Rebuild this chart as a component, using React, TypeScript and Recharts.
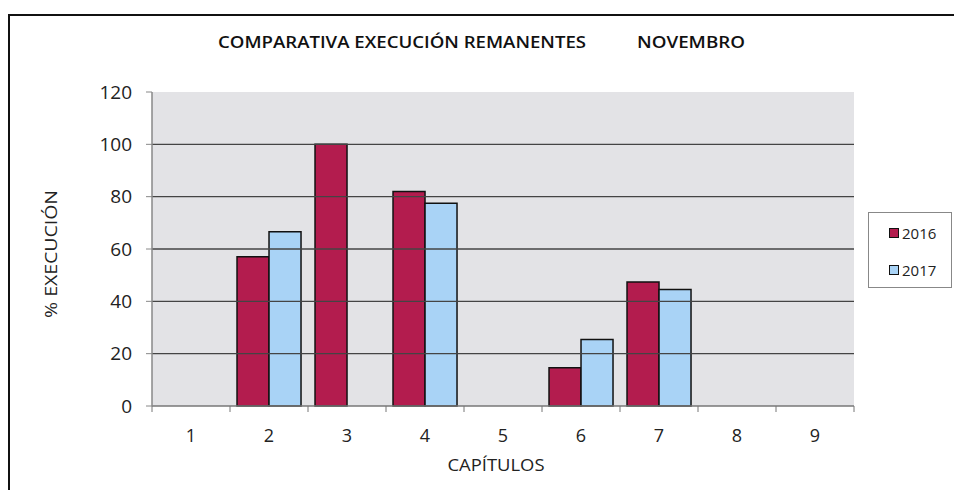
import React from 'react';
import { BarChart, Bar, XAxis, YAxis, ReferenceLine, ReferenceArea, Customized } from 'recharts';

const categories = ['1', '2', '3', '4', '5', '6', '7', '8', '9'];
const values2016: (number | null)[] = [null, 57, 100, 82, null, 14.6, 47.4, null, null];
const values2017: (number | null)[] = [null, 66.6, null, 77.5, null, 25.4, 44.5, null, null];
const yTicks = [0, 20, 40, 60, 80, 100, 120];
const gridValues = [20, 40, 60, 80, 100];
const series = [
  { key: 'y2016', name: '2016', color: '#b31c4e' },
  { key: 'y2017', name: '2017', color: '#a9d3f6' },
];

const data = categories.map((c, i) => ({ cap: c, y2016: values2016[i], y2017: values2017[i] }));

const W = 954;
const H = 490;
const margin = { top: 92, right: 100, bottom: 0, left: 0 };
const yAxisWidth = 152;
const xAxisHeight = 84;
const FONT = "'Open Sans', 'Noto Sans', sans-serif";

const XTick = (props: any) => {
  const { x, y, payload, index } = props;
  const band = payload && payload.offset ? payload.offset * 2 : (W - margin.left - yAxisWidth - margin.right) / categories.length;
  const half = band / 2;
  return (
    <g>
      <line x1={x - half} x2={x - half} y1={y} y2={y + 6} stroke="#777" strokeWidth={1} />
      {index === categories.length - 1 && (
        <line x1={x + half} x2={x + half} y1={y} y2={y + 6} stroke="#777" strokeWidth={1} />
      )}
      <text x={x} y={y + 31} textAnchor="middle" dominantBaseline="middle" fontFamily={FONT} fontSize={18} fill="#222">
        {payload.value}
      </text>
    </g>
  );
};

const Texts = () => (
  <g fontFamily={FONT} fill="#111">
    <text x={218} y={44} dominantBaseline="middle" fontSize={16} fontWeight={600} textLength={368} lengthAdjust="spacingAndGlyphs">
      COMPARATIVA EXECUCIÓN REMANENTES
    </text>
    <text x={637} y={44} dominantBaseline="middle" fontSize={16} fontWeight={600} textLength={108} lengthAdjust="spacingAndGlyphs">
      NOVEMBRO
    </text>
    <text x={496} y={466} textAnchor="middle" dominantBaseline="middle" fontSize={17} fill="#222" textLength={97} lengthAdjust="spacingAndGlyphs">
      CAPÍTULOS
    </text>
    <text
      x={52}
      y={254}
      textAnchor="middle"
      dominantBaseline="middle"
      fontSize={17}
      fill="#222"
      transform="rotate(-90 52 254)"
      textLength={128}
      lengthAdjust="spacingAndGlyphs"
    >
      % EXECUCIÓN
    </text>
  </g>
);

export default function App() {
  return (
    <div style={{ position: 'relative', width: W, height: H, background: '#fff', overflow: 'hidden' }}>
      <style>{'body{margin:0;}'}</style>
      <div
        style={{
          position: 'absolute',
          left: 8,
          top: 14,
          width: W,
          height: H,
          borderTop: '2px solid #111',
          borderLeft: '2px solid #111',
          boxSizing: 'border-box',
        }}
      />
      <div style={{ position: 'absolute', left: 0, top: 0 }}>
        <BarChart width={W} height={H} data={data} margin={margin} barCategoryGap="9%" barGap={0}>
          <ReferenceArea y1={0} y2={120} fill="#e3e3e6" fillOpacity={1} stroke="none" ifOverflow="hidden" />
          {gridValues.map((v) => (
            <ReferenceLine key={v} y={v} stroke="#444" strokeWidth={1.3} />
          ))}
          <XAxis
            dataKey="cap"
            height={xAxisHeight}
            tickLine={false}
            tickSize={0}
            tickMargin={0}
            axisLine={{ stroke: '#777', strokeWidth: 1.5 }}
            tick={<XTick />}
            interval={0}
          />
          <YAxis
            width={yAxisWidth}
            domain={[0, 120]}
            ticks={yTicks}
            interval={0}
            tickSize={6}
            tickMargin={14}
            axisLine={{ stroke: '#888', strokeWidth: 1.5 }}
            tickLine={{ stroke: '#888' }}
            tick={{ fontFamily: FONT, fontSize: 19, fill: '#222' }}
          />
          {series.map((s) => (
            <Bar key={s.key} dataKey={s.key} name={s.name} fill={s.color} stroke="#111" strokeWidth={1.5} isAnimationActive={false} />
          ))}
          <Customized component={Texts} />
        </BarChart>
      </div>
      <div
        style={{
          position: 'absolute',
          left: 868,
          top: 212,
          width: 84,
          height: 76,
          border: '1px solid #888',
          boxSizing: 'border-box',
          background: '#fff',
          fontFamily: FONT,
          fontSize: 15,
          color: '#222',
        }}
      >
        {series.map((s, i) => (
          <div
            key={s.key}
            style={{ position: 'absolute', left: 20, top: i === 0 ? 11 : 48, display: 'flex', alignItems: 'center', lineHeight: '18px' }}
          >
            <span
              style={{
                display: 'inline-block',
                width: 10,
                height: 10,
                background: s.color,
                border: '1.5px solid #111',
                boxSizing: 'border-box',
                marginRight: 3,
              }}
            />
            <span>{s.name}</span>
          </div>
        ))}
      </div>
    </div>
  );
}
